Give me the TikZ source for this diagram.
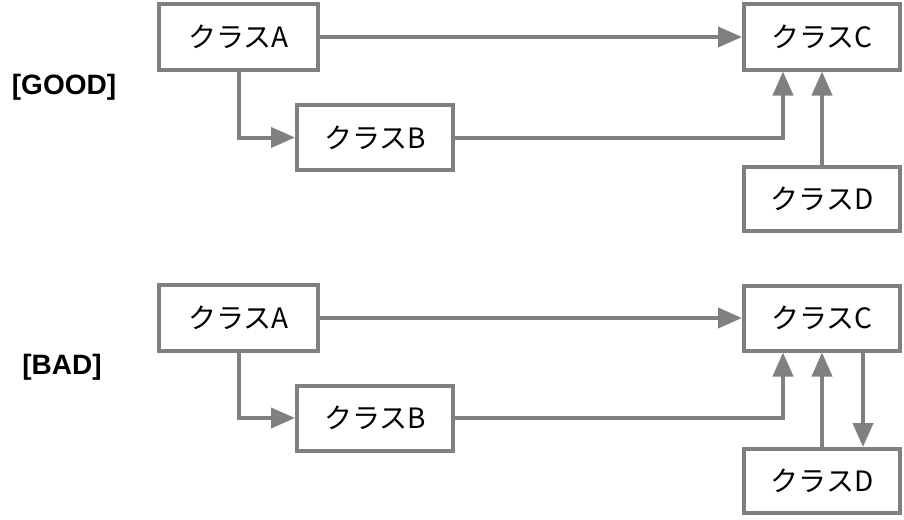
\documentclass[tikz,border=0pt]{standalone}
\usepackage{fontspec}
\setmainfont{Noto Sans CJK JP}
\newfontfamily\labfont{Liberation Sans}
\usetikzlibrary{arrows.meta}
\definecolor{lg}{HTML}{808080}
\tikzset{
  box/.style={draw=lg, line width=4pt, fill=white, minimum width=156pt, minimum height=65pt, inner sep=0pt, font=\fontsize{28}{32}\selectfont},
  arr/.style={draw=lg, line width=4pt, -{Triangle[length=24pt,width=20pt]}},
  lab/.style={font=\labfont\bfseries\fontsize{28}{32}\selectfont}
}
\begin{document}
\begin{tikzpicture}[x=1pt,y=-1pt]
\useasboundingbox (0,0) rectangle (904,519);
% GOOD
\node[lab] (good) at (64,87) {[GOOD]};
\node[box, minimum width=159pt, minimum height=66pt] (a1) at (238.5,37) {クラスA};
\node[box] (b1) at (375,137.5) {クラスB};
\node[box] (c1) at (822,37) {クラスC};
\node[box, minimum height=64pt] (d1) at (822,199) {クラスD};
\draw[arr] (a1.east) -- (c1.west);
\draw[arr] (a1.south) |- (b1.west);
\draw[arr] (b1.east) -| ([xshift=-39pt]c1.south);
\draw[arr] (d1.north) -- (c1.south);
% BAD
\node[lab] (bad) at (62,367) {[BAD]};
\node[box, minimum width=159pt, minimum height=66pt] (a2) at (238.5,318) {クラスA};
\node[box] (b2) at (375,418) {クラスB};
\node[box] (c2) at (822,318) {クラスC};
\node[box, minimum height=64pt] (d2) at (822,481) {クラスD};
\draw[arr] (a2.east) -- (c2.west);
\draw[arr] (a2.south) |- (b2.west);
\draw[arr] (b2.east) -| ([xshift=-39pt]c2.south);
\draw[arr] (d2.north) -- (c2.south);
\draw[arr] ([xshift=41pt]c2.south) -- ([xshift=41pt]d2.north);
\end{tikzpicture}
\end{document}
